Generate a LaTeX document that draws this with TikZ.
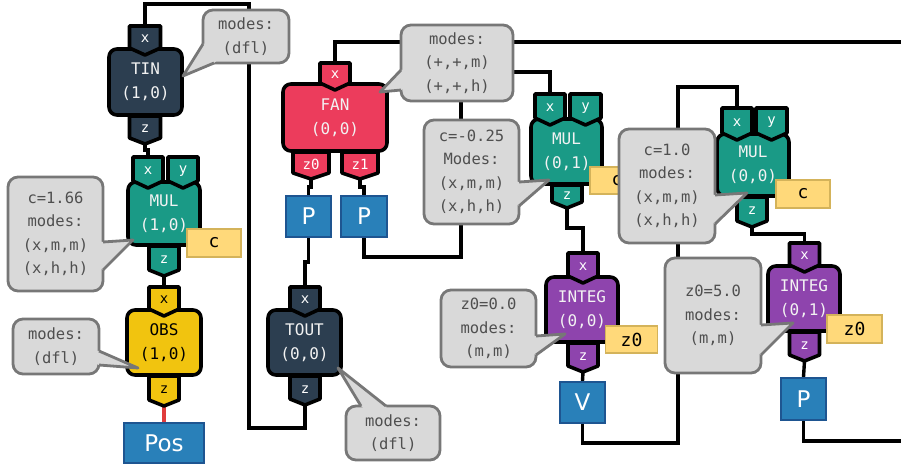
\documentclass[tikz,border=0pt]{standalone}
\usepackage{fontspec}
\setmonofont{DejaVu Sans Mono}
\setsansfont{DejaVu Sans}
\definecolor{navy}{HTML}{2C3E50}
\definecolor{teal}{HTML}{1A9A86}
\definecolor{fanred}{HTML}{EC3C5C}
\definecolor{obsyel}{HTML}{F1C40F}
\definecolor{purp}{HTML}{8E44AD}
\definecolor{bluefill}{HTML}{2980B9}
\definecolor{blueborder}{HTML}{1E5591}
\definecolor{parfill}{HTML}{FFD97A}
\definecolor{parborder}{HTML}{D4B35A}
\definecolor{cfill}{HTML}{D9D9D9}
\definecolor{cborder}{HTML}{777777}
\definecolor{ctext}{HTML}{4F4F4F}
\definecolor{wirered}{HTML}{E03C3C}
\definecolor{lighttext}{HTML}{F2F2F2}
\usetikzlibrary{calc}
\pgfdeclarelayer{bg}
\pgfsetlayers{bg,main}
\tikzset{
  wire/.style={line width=3.4pt, draw=black},
  body/.style={draw=black, line width=3.6pt, rounded corners=8pt, inner sep=0pt, outer sep=0pt, align=center, font=\ttfamily\fontsize{16}{24}\selectfont},
  tabshape/.style={draw=black, line width=3.6pt, line join=round},
  tablabel/.style={font=\ttfamily\fontsize{14}{14}\selectfont, inner sep=0pt},
  cbox/.style={draw=cborder, fill=cfill, line width=2.8pt, rounded corners=10pt, inner sep=0pt, outer sep=0pt},
  ctextstyle/.style={text=ctext, align=center, inner sep=0pt, font=\ttfamily\fontsize{15.5}{23.5}\selectfont},
  param/.style={draw=parborder, fill=parfill, line width=1.6pt, inner sep=0pt, font=\ttfamily\fontsize{18}{18}\selectfont},
  outbox/.style={draw=blueborder, fill=bluefill, line width=2.2pt, inner sep=0pt, text=white, font=\sffamily\fontsize{23}{23}\selectfont},
}
% #1 name #2 cx #3 ytop #4 ycorner #5 width #6 label #7 fill #8 text colour
\newcommand\intab[8]{%
  \node[inner sep=0pt, outer sep=0pt, minimum width=#5pt, minimum height={(#4-#3)*1pt}] (#1) at (#2,{(#3+#4)/2}) {};
  \filldraw[tabshape, fill=#7] (#1.north west) -- (#1.north east) -- (#1.south east) -- ([yshift=-7pt]#1.south) -- (#1.south west) -- cycle;
  \node[tablabel, text=#8] (#1-l) at ([yshift=-2pt]#1.center) {#6};
}
\newcommand\outtab[8]{%
  \node[inner sep=0pt, outer sep=0pt, minimum width=#5pt, minimum height={(#4-#3)*1pt}] (#1) at (#2,{(#3+#4)/2}) {};
  \filldraw[tabshape, fill=#7] (#1.north west) -- (#1.north east) -- (#1.south east) -- ([yshift=-6pt]#1.south) -- (#1.south west) -- cycle;
  \coordinate (#1-tip) at ([yshift=-6pt]#1.south);
  \node[tablabel, text=#8] (#1-l) at ([yshift=-2pt]#1.center) {#6};
}
% #1 name #2 cx #3 cy #4 w #5 h #6 text #7 B1 #8 tip #9 B2
\newcommand\callout[9]{%
  \node[cbox, minimum width=#4pt, minimum height=#5pt] (#1) at (#2,#3) {};
  \fill[cfill] #7 -- #8 -- #9 -- (#1.center) -- cycle;
  \draw[cborder, line width=2.8pt, line join=round] #7 -- #8 -- #9;
  \node[ctextstyle] (#1-t) at (#1.center) {#6};
}
\begin{document}
\begin{tikzpicture}[x=1pt, y=-1pt]
\useasboundingbox (0,0) rectangle (901,465);

% ---------- TIN (1,0)
\outtab{tin-z}{145}{116}{138}{31}{z}{navy}{white}
\node[body, fill=navy, text=lighttext, minimum width=73pt, minimum height=66pt] (tin) at (145.5,82) {TIN\\(1,0)};
\intab{tin-x}{145}{26}{48}{31}{x}{navy}{white}

% ---------- MUL (1,0)
\outtab{mul10-z}{164}{246}{270}{30}{z}{teal}{white}
\node[body, fill=teal, text=lighttext, minimum width=72pt, minimum height=63pt] (mul10) at (164,213.5) {MUL\\(1,0)};
\intab{mul10-x}{148}{157}{181}{30}{x}{teal}{white}
\intab{mul10-y}{183}{157}{181}{30}{y}{teal}{white}
\node[param, minimum width=54pt, minimum height=28pt] (mul10-c) at (214,243) {c};

% ---------- OBS (1,0)
\outtab{obs-z}{164}{376}{400}{30}{z}{obsyel}{black}
\node[body, fill=obsyel, text=black, minimum width=74pt, minimum height=65pt] (obs) at (164,342.5) {OBS\\(1,0)};
\intab{obs-x}{164}{287}{309}{30}{x}{obsyel}{black}
\node[outbox, minimum width=80pt, minimum height=40pt] (pos) at (164,443) {Pos};

% ---------- FAN (0,0)
\outtab{fan-z0}{311}{152}{173}{36}{z0}{fanred}{white}
\outtab{fan-z1}{360}{152}{173}{36}{z1}{fanred}{white}
\node[body, fill=fanred, text=lighttext, minimum width=104pt, minimum height=67pt] (fan) at (335,117.5) {FAN\\(0,0)};
\intab{fan-x}{335}{63}{83}{30}{x}{fanred}{white}
\node[outbox, minimum width=45pt, minimum height=41pt] (p1) at (308.5,216.5) {P};
\node[outbox, minimum width=46pt, minimum height=41pt] (p2) at (364,216.5) {P};

% ---------- TOUT (0,0)
\outtab{tout-z}{305}{376}{399}{30}{z}{navy}{white}
\node[body, fill=navy, text=lighttext, minimum width=73pt, minimum height=65pt] (tout) at (304.5,342.5) {TOUT\\(0,0)};
\intab{tout-x}{305}{287}{309}{30}{x}{navy}{white}

% ---------- MUL (0,1)
\outtab{mul01-z}{567}{185}{202}{30}{z}{teal}{white}
\node[body, fill=teal, text=lighttext, minimum width=71pt, minimum height=65pt] (mul01) at (566.5,151.5) {MUL\\(0,1)};
\intab{mul01-x}{550}{94}{118}{30}{x}{teal}{white}
\intab{mul01-y}{585.5}{94}{118}{31}{y}{teal}{white}
\node[param, minimum width=54pt, minimum height=27pt] (mul01-c) at (617,180.5) {c};

% ---------- INTEG (0,0)
\outtab{integ00-z}{583}{343}{366}{30}{z}{purp}{white}
\node[body, fill=purp, text=lighttext, minimum width=72pt, minimum height=65pt] (integ00) at (582,309.5) {INTEG\\(0,0)};
\intab{integ00-x}{583}{253}{276}{30}{x}{purp}{white}
\node[param, minimum width=52pt, minimum height=27pt] (integ00-z0) at (631.5,339.5) {z0};
\node[outbox, minimum width=45pt, minimum height=41pt] (v) at (582.5,402.5) {V};

% ---------- MUL (0,0)
\outtab{mul00-z}{752}{197}{221}{30}{z}{teal}{white}
\node[body, fill=teal, text=lighttext, minimum width=72pt, minimum height=62pt] (mul00) at (753,165) {MUL\\(0,0)};
\intab{mul00-x}{737}{108}{133}{30}{x}{teal}{white}
\intab{mul00-y}{771.5}{108}{133}{31}{y}{teal}{white}
\node[param, minimum width=54pt, minimum height=28pt] (mul00-c) at (803,194) {c};

% ---------- INTEG (0,1)
\outtab{integ01-z}{804.5}{332}{355}{30}{z}{purp}{white}
\node[body, fill=purp, text=lighttext, minimum width=72pt, minimum height=65pt] (integ01) at (804,298.5) {INTEG\\(0,1)};
\intab{integ01-x}{804.5}{243}{265}{30}{x}{purp}{white}
\node[param, minimum width=55pt, minimum height=28pt] (integ01-z0) at (854.5,329) {z0};
\node[outbox, minimum width=45pt, minimum height=42pt] (p3) at (803.5,399) {P};

% ---------- callouts
\callout{c-tin}{246}{36.5}{86}{53}{modes:\\(dfl)}{(203,44)}{(183,76)}{(214,63)}
\callout{c-mul10}{55.5}{234}{95}{114}{c=1.66\\modes:\\(x,m,m)\\(x,h,h)}{(103,242)}{(133,240)}{(103,270)}
\callout{c-obs}{56}{346.5}{86}{55}{modes:\\(dfl)}{(99,351)}{(138,368)}{(99,365)}
\callout{c-fan}{457}{63}{112}{76}{modes:\\(+,+,m)\\(+,+,h)}{(401,70)}{(380,92)}{(401,90)}
\callout{c-mul01}{471.5}{172}{95}{104}{c=-0.25\\Modes:\\(x,m,m)\\(x,h,h)}{(519,182)}{(549,180)}{(519,206)}
\callout{c-tout}{393}{433}{94}{54}{modes:\\(dfl)}{(361,406)}{(338,368)}{(386,406)}
\callout{c-integ00}{488.5}{328.5}{95}{77}{z0=0.0\\modes:\\(m,m)}{(536,336)}{(565,334)}{(536,355)}
\callout{c-mul00}{667}{186}{96}{114}{c=1.0\\modes:\\(x,m,m)\\(x,h,h)}{(715,195)}{(747,193)}{(715,224)}
\callout{c-integ01}{713}{315.5}{96}{115}{z0=5.0\\modes:\\(m,m)}{(761,325)}{(793,323)}{(761,355)}

% ---------- wires (background layer)
\begin{pgfonlayer}{bg}
\fill[white] (0,0) rectangle (901,465);
\coordinate (w1a) at (249,428);
\coordinate (w1b) at (249,4);
\draw[wire] (tout-z-tip) |- (w1a) -- (w1b) -| (tin-x.north);
\draw[wire] (tin-z-tip) -- ++(0,6) -| (mul10-x.north);
\draw[wire] (mul10-z-tip) -- (obs-x.north);
\draw[wire, draw=wirered] (obs-z-tip) -- (pos.north);
\coordinate (w5) at (901,42);
\draw[wire] (fan-x.north) |- (w5);
\draw[wire] (fan-z0-tip) -- ++(0,8) -| (p1.north);
\draw[wire] (fan-z1-tip) -- ++(0,8) -| (p2.north);
\draw[wire] (p1.south) -- ++(0,24) -| (tout-x.north);
\coordinate (w10a) at (461,257);
\coordinate (w10b) at (461,72);
\draw[wire] (p2.south) |- (w10a) -- (w10b) -| (mul01-x.north);
\draw[wire] (mul01-z-tip) -- ++(0,20) -| (integ00-x.north);
\draw[wire] (integ00-z-tip) -- (v.north);
\coordinate (w13a) at (678,443);
\coordinate (w13b) at (678,87);
\draw[wire] (v.south) |- (w13a) -- (w13b) -| (mul00-x.north);
\draw[wire] (mul00-z-tip) -- ++(0,7) -| (integ01-x.north);
\draw[wire] (integ01-z-tip) -- (p3.north);
\coordinate (w6) at (901,441);
\draw[wire] (p3.south) |- (w6);
\end{pgfonlayer}
\end{tikzpicture}
\end{document}
